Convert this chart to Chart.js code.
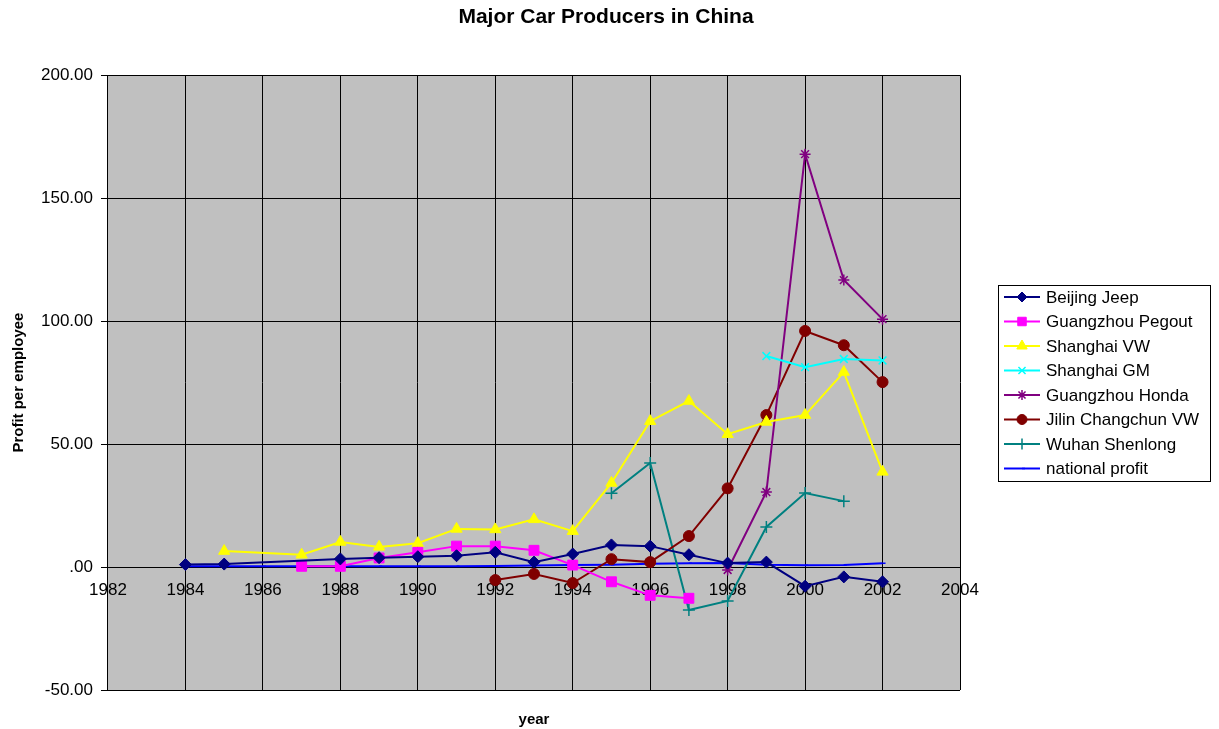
<!DOCTYPE html>
<html>
<head>
<meta charset="utf-8">
<script src="https://cdn.jsdelivr.net/npm/chart.js@4.4.1/dist/chart.umd.min.js"></script>
<style>
  html, body { margin: 0; padding: 0; background: #fff; }
  #wrap { width: 1219px; height: 729px; }
</style>
</head>
<body>
<div id="wrap"><canvas id="carChart" width="1219" height="729"></canvas></div>
<script>
// years on the x axis, one value per year (null = no data)
const years = [1984, 1985, 1986, 1987, 1988, 1989, 1990, 1991, 1992, 1993,
               1994, 1995, 1996, 1997, 1998, 1999, 2000, 2001, 2002];

const beijingJeep   = [1.0, 1.2, null, null, 3.3, 3.8, 4.2, 4.6, 6.0, 2.0, 5.3, 9.0, 8.5, 5.0, 1.6, 2.0, -7.8, -4.0, -6.0];
const guangzhouPeg  = [null, null, null, 0.3, 0.3, 3.7, 6.0, 8.5, 8.5, 6.8, 0.8, -6.0, -11.5, -12.7, null, null, null, null, null];
const shanghaiVW    = [null, 6.5, null, 5.0, 10.2, 8.2, 9.7, 15.5, 15.3, 19.4, 14.6, 34.2, 59.3, 67.5, 54.0, 59.0, 61.8, 79.3, 38.7];
const shanghaiGM    = [null, null, null, null, null, null, null, null, null, null, null, null, null, null, null, 85.8, 81.3, 84.6, 84.0];
const guangzhouHon  = [null, null, null, null, null, null, null, null, null, null, null, null, null, null, -1.2, 30.5, 167.9, 116.7, 100.8];
const jilinVW       = [null, null, null, null, null, null, null, null, -5.3, -2.8, -6.5, 3.2, 2.0, 12.6, 32.0, 61.8, 96.0, 90.2, 75.2];
const wuhanShenlong = [null, null, null, null, null, null, null, null, null, null, null, 30.0, 42.3, -17.5, -13.8, 16.3, 30.1, 26.8, null];
const nationalProf  = [0.3, 0.3, 0.3, 0.3, 0.3, 0.3, 0.3, 0.3, 0.4, 0.6, 0.8, 0.9, 1.3, 1.5, 1.6, 0.9, 0.7, 0.8, 1.5];

const seriesNames = ['Beijing Jeep', 'Guangzhou Pegout', 'Shanghai VW', 'Shanghai GM',
                     'Guangzhou Honda', 'Jilin Changchun VW', 'Wuhan Shenlong', 'national profit'];
const seriesValues = [beijingJeep, guangzhouPeg, shanghaiVW, shanghaiGM,
                      guangzhouHon, jilinVW, wuhanShenlong, nationalProf];
const seriesColors = ['#000080', '#FF00FF', '#FFFF00', '#00FFFF', '#800080', '#800000', '#008080', '#0000FF'];
const seriesMarkers = ['rectRot', 'rect', 'triangle', 'crossRot', 'star', 'circle', 'cross', 'dash'];
const markerSizes = [6, 7, 6.5, 5.5, 5.5, 5.5, 6, 3];
const legendMarkerSizes = [5, 6, 6, 5, 5, 5, 5.5, 3];

const yTicks = [-50, 0, 50, 100, 150, 200];

const FONT = '"Liberation Sans", Arial, sans-serif';

function toPoints(vals) {
    const pts = [];
    vals.forEach((v, i) => {
        if (v !== null) pts.push({ x: years[i], y: v });
    });
    return pts;
}

const datasets = seriesNames.map((name, i) => {
    const m = seriesMarkers[i];
    const lineOnly = (m === 'crossRot' || m === 'star' || m === 'cross' || m === 'dash');
    return {
        label: name,
        data: toPoints(seriesValues[i]),
        borderColor: seriesColors[i],
        backgroundColor: seriesColors[i],
        borderWidth: 2,
        pointStyle: m,
        pointRadius: markerSizes[i],
        pointBorderWidth: lineOnly ? 1.5 : 1,
        pointBackgroundColor: seriesColors[i],
        pointBorderColor: seriesColors[i],
        tension: 0,
        fill: false
    };
});

// grey plot area
const plotBackground = {
    id: 'plotBackground',
    beforeDraw(chart) {
        const { ctx, chartArea: a } = chart;
        ctx.save();
        ctx.fillStyle = '#C0C0C0';
        ctx.fillRect(a.left, a.top, a.right - a.left, a.bottom - a.top);
        ctx.restore();
    }
};

// boxed legend on the right, line + marker per series
const boxLegend = {
    id: 'boxLegend',
    afterDraw(chart) {
        const ctx = chart.ctx;
        const bx = 998, by = 285, bw = 212, bh = 196;
        ctx.save();
        ctx.strokeStyle = '#000';
        ctx.lineWidth = 1;
        ctx.strokeRect(bx + 0.5, by + 0.5, bw, bh);
        ctx.font = '17px ' + FONT;
        ctx.textBaseline = 'middle';
        chart.data.datasets.forEach((ds, i) => {
            const y = by + 12 + i * 24.5;
            ctx.strokeStyle = ds.borderColor;
            ctx.lineWidth = 2;
            ctx.beginPath();
            ctx.moveTo(bx + 6, y);
            ctx.lineTo(bx + 42, y);
            ctx.stroke();
            ctx.fillStyle = ds.pointBackgroundColor;
            ctx.strokeStyle = ds.pointBorderColor;
            ctx.lineWidth = ds.pointBorderWidth;
            Chart.helpers.drawPoint(ctx, {
                pointStyle: ds.pointStyle,
                radius: legendMarkerSizes[i],
                borderWidth: ds.pointBorderWidth,
                rotation: 0
            }, bx + 24, y);
            ctx.fillStyle = '#000';
            ctx.fillText(ds.label, bx + 48, y + 1);
        });
        ctx.restore();
    }
};

new Chart(document.getElementById('carChart'), {
    type: 'line',
    data: { datasets: datasets },
    options: {
        responsive: false,
        animation: false,
        layout: { padding: { left: 10, right: 17, top: 0, bottom: 0 } },
        plugins: {
            legend: { display: false },
            tooltip: { enabled: false },
            title: {
                display: true,
                text: 'Major Car Producers in China',
                color: '#000',
                font: { family: FONT, size: 21, weight: 'bold' },
                padding: { top: 5, bottom: 45 }
            }
        },
        scales: {
            x: {
                type: 'linear',
                position: { y: 0 },
                min: 1982,
                max: 2004,
                ticks: {
                    stepSize: 2,
                    color: '#000',
                    font: { family: FONT, size: 17 },
                    callback: v => String(v),
                    padding: 9,
                    maxRotation: 0
                },
                grid: { color: '#000', lineWidth: 1, tickLength: 4 },
                border: { color: '#000', width: 1 }
            },
            // bottom axis carrying only the "year" title
            xTitle: {
                type: 'linear',
                position: 'bottom',
                min: 0,
                max: 1,
                ticks: { display: false },
                grid: { display: false },
                border: { display: false },
                title: {
                    display: true,
                    text: 'year',
                    color: '#000',
                    font: { family: FONT, size: 15, weight: 'bold' },
                    padding: { top: 13, bottom: 0 }
                }
            },
            y: {
                min: -50,
                max: 200,
                afterBuildTicks: scale => { scale.ticks = yTicks.map(v => ({ value: v })); },
                ticks: {
                    color: '#000',
                    font: { family: FONT, size: 17 },
                    callback: v => (v === 0 ? '.00' : v.toFixed(2)),
                    padding: 8
                },
                grid: { color: '#000', lineWidth: 1, tickLength: 7 },
                border: { color: '#000', width: 1 },
                title: {
                    display: true,
                    text: 'Profit per employee',
                    color: '#000',
                    font: { family: FONT, size: 15, weight: 'bold' },
                    padding: { top: 0, bottom: 5 }
                }
            },
            // empty right axis reserving room for the legend box
            yRight: {
                type: 'linear',
                position: 'right',
                min: 0,
                max: 1,
                ticks: { display: false },
                grid: { display: false },
                border: { display: false },
                afterFit: scale => { scale.width = 242; }
            }
        }
    },
    plugins: [plotBackground, boxLegend]
});
</script>
</body>
</html>
